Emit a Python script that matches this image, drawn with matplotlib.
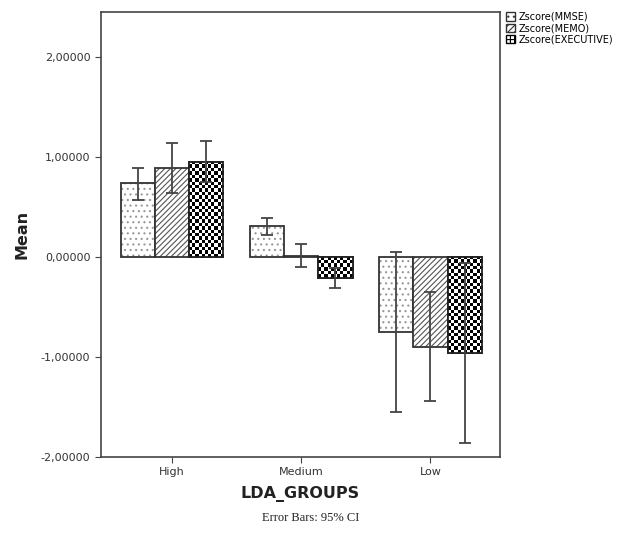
import numpy as np
import matplotlib
matplotlib.use("Agg")
import matplotlib.pyplot as plt
from matplotlib.patches import Patch
from matplotlib.ticker import FuncFormatter

# data
groups = ["High", "Medium", "Low"]
series = ["Zscore(MMSE)", "Zscore(MEMO)", "Zscore(EXECUTIVE)"]
mmse = [0.74, 0.31, -0.75]
mmse_lo = [0.57, 0.22, -1.55]
mmse_hi = [0.89, 0.39, 0.05]
memo = [0.89, 0.01, -0.90]
memo_lo = [0.64, -0.10, -1.44]
memo_hi = [1.14, 0.13, -0.35]
execu = [0.95, -0.21, -0.96]
exec_lo = [0.75, -0.31, -1.86]
exec_hi = [1.16, -0.11, -0.06]

means = [mmse, memo, execu]
lows = [mmse_lo, memo_lo, exec_lo]
highs = [mmse_hi, memo_hi, exec_hi]

plt.rcParams['hatch.linewidth'] = 0.8

fig = plt.figure(figsize=(6.3, 5.33), dpi=100)
ax = fig.add_axes([0.160, 0.1426, 0.634, 0.8349])

x = np.arange(len(groups))
w = 0.265
offsets = [-w, 0, w]
ecol = '#444444'

for i in range(3):
    if i == 0:
        b = ax.bar(x + offsets[i], means[i], w, color='white', edgecolor='#333333',
                   linewidth=1.3, hatch='...', zorder=2)
        for p in b:
            p._hatch_color = matplotlib.colors.to_rgba('#999999')
    elif i == 1:
        b = ax.bar(x + offsets[i], means[i], w, color='white', edgecolor='#333333',
                   linewidth=1.3, hatch='//////', zorder=2)
        for p in b:
            p._hatch_color = matplotlib.colors.to_rgba('#555555')
    else:
        b = ax.bar(x + offsets[i], means[i], w, color='white', edgecolor='#222222',
                   linewidth=1.3, zorder=2)
        # checkerboard fill clipped to each bar
        for p in b:
            x0, y0 = p.get_x(), p.get_y()
            bw, bh = p.get_width(), p.get_height()
            nx = 11
            ny = max(1, int(round(abs(bh) * 30)))
            chk = (np.add.outer(np.arange(ny), np.arange(nx)) % 2).astype(float)
            im = ax.imshow(chk, cmap='gray_r', vmin=0, vmax=1, interpolation='nearest',
                           extent=[x0, x0 + bw, min(y0, y0 + bh), max(y0, y0 + bh)],
                           aspect='auto', zorder=2.5)
            im.set_clip_path(p)
            ax.add_patch(plt.Rectangle((x0, y0), bw, bh, fill=False,
                                       edgecolor='#222222', linewidth=1.3, zorder=2.6))
    m = np.array(means[i])
    yerr = [m - np.array(lows[i]), np.array(highs[i]) - m]
    ax.errorbar(x + offsets[i], m, yerr=yerr, fmt='none', ecolor=ecol,
                elinewidth=1.3, capsize=4, capthick=1.3, zorder=3)

ax.set_xlim(-0.55, 2.54)
ax.set_ylim(-2.0, 2.45)
ax.set_xticks(x)
ax.set_xticklabels(groups, fontsize=8, color='#333333')
ax.set_yticks([-2, -1, 0, 1, 2])
ax.yaxis.set_major_formatter(FuncFormatter(lambda v, p: f"{v:.5f}".replace('.', ',')))
ax.tick_params(axis='y', labelsize=8, labelcolor='#333333', length=4, color='#444444')
ax.tick_params(axis='x', length=4, color='#444444')
for s in ax.spines.values():
    s.set_color('#444444')
    s.set_linewidth(1.2)

ax.set_ylabel('Mean', fontsize=11.5, fontweight='bold', color='#222222', labelpad=8)
ax.set_xlabel('LDA_GROUPS', fontsize=11.5, fontweight='bold', color='#222222', labelpad=6)
fig.text(0.493, 0.016, 'Error Bars: 95% CI', fontsize=9, family='Liberation Serif',
         ha='center', va='bottom', color='#222222')

handles = [
    Patch(facecolor='white', edgecolor='#333333', hatch='...', label=series[0]),
    Patch(facecolor='white', edgecolor='#333333', hatch='/////', label=series[1]),
    Patch(facecolor='white', edgecolor='black', hatch='++++', label=series[2]),
]
fig.legend(handles=handles, loc='upper left', bbox_to_anchor=(0.797, 0.985),
           frameon=False, fontsize=7, handlelength=0.9, handleheight=0.9,
           handletextpad=0.4, labelspacing=0.15, borderaxespad=0)

fig.savefig('out.png', dpi=100)
